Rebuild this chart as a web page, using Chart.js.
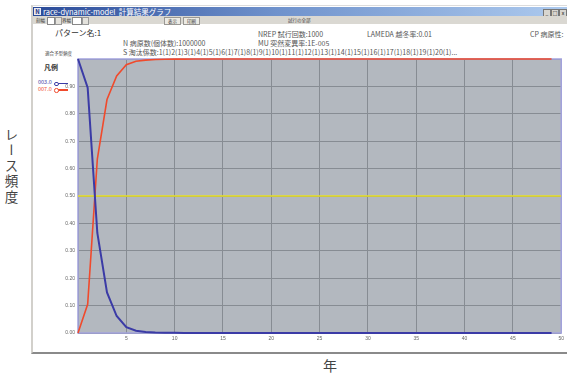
<!DOCTYPE html>
<html>
<head>
<meta charset="utf-8">
<script src="https://cdn.jsdelivr.net/npm/chart.js@4.4.0/dist/chart.umd.min.js"></script>
<style>
body{margin:0;width:567px;height:374px;background:#fff;position:relative;overflow:hidden;font-family:"Noto Sans CJK JP","Noto Sans",sans-serif;}
.a{position:absolute;white-space:nowrap;line-height:1;}
#win{position:absolute;left:31px;top:5px;width:545px;height:346px;background:#fff;border-left:2px solid #d2d0cb;border-top:1px solid #dcdcdc;border-bottom:2px solid #8a8a8a;}
#titlebar{position:absolute;left:33px;top:7px;width:540px;height:9px;background:linear-gradient(to right,#2a4a98,#6f92cc 45%,#aecbef);}
#toolbar{position:absolute;left:33px;top:16px;width:540px;height:8px;background:#dad8d2;}
.btn{position:absolute;top:17px;height:6px;background:#eceae4;border:1px solid #9a9894;font-size:4.5px;line-height:6px;text-align:center;color:#333;}
.box{position:absolute;top:17px;height:6px;background:#fff;border:1px solid #888;}
.spin{position:absolute;top:17px;width:5px;height:6px;background:#e4e2dc;border:1px solid #999;}
.wb{position:absolute;top:9px;width:6px;height:6px;background:#d8d6d0;border:1px solid #777;font-size:5px;line-height:6px;text-align:center;color:#000;}
.info{font-size:7px;color:#555;}
</style>
</head>
<body>
<div id="win"></div>
<div id="titlebar"></div>
<div class="a" style="left:34px;top:8px;width:7px;height:7px;background:#e8e8f0;color:#203080;font-size:6px;line-height:7px;text-align:center;font-weight:bold;">N</div>
<div class="a" style="left:43px;top:8px;font-size:7.5px;color:#fff;">race-dynamic-model&nbsp; 計算結果グラフ</div>
<div class="wb" style="left:543px;">_</div>
<div class="wb" style="left:551px;">□</div>
<div class="wb" style="left:559px;">x</div>
<div id="toolbar"></div>
<div class="a" style="left:36px;top:18px;font-size:4.5px;color:#333;">刻幅</div>
<div class="box" style="left:47px;width:6px;"></div>
<div class="spin" style="left:55px;"></div>
<div class="a" style="left:62px;top:18px;font-size:4.5px;color:#333;">界幅</div>
<div class="box" style="left:72px;width:8px;"></div>
<div class="spin" style="left:82px;"></div>
<div class="btn" style="left:164px;width:15px;">表示</div>
<div class="btn" style="left:183px;width:15px;">印刷</div>
<div class="a" style="left:288px;top:18px;font-size:4.5px;color:#444;">試行の全部</div>

<div class="a" style="left:55px;top:29px;font-size:8px;color:#333;">パターン名:1</div>
<div class="a info" style="left:258px;top:31px;">NREP 試行回数:1000</div>
<div class="a info" style="left:367px;top:31px;">LAMEDA 越冬率:0.01</div>
<div class="a info" style="left:530px;top:31px;">CP 病原性:</div>
<div class="a info" style="left:123px;top:40px;">N 病原数(個体数):1000000</div>
<div class="a info" style="left:258px;top:40px;">MU 突然変異率:1E-005</div>
<div class="a info" style="left:123px;top:49px;">S 淘汰係数:1(1)2(1)3(1)4(1)5(1)6(1)7(1)8(1)9(1)10(1)11(1)12(1)13(1)14(1)15(1)16(1)17(1)18(1)19(1)20(1)...</div>
<div class="a" style="left:45px;top:51px;font-size:4.5px;color:#444;">適合予型頻度</div>
<div class="a" style="left:44px;top:64px;font-size:7px;color:#333;font-weight:bold;">凡例</div>
<div id="legend"></div>

<div class="a" style="left:4px;top:128px;writing-mode:vertical-rl;font-size:13.5px;letter-spacing:2px;color:#444;">レース頻度</div>
<div class="a" style="left:323px;top:358px;font-size:14px;color:#444;">年</div>

<canvas id="chart" width="567" height="374" style="position:absolute;left:0;top:0;"></canvas>
<script>
var years = [];
for (var i = 0; i < 50; i++) years.push(i);

var seriesNames = ["003.0", "007.0"];
var seriesColors = ["#3b3ba6", "#f04a2c"];

var race003 = [1.000, 0.895, 0.365, 0.148, 0.062, 0.021, 0.008, 0.004, 0.002, 0.001,
    0.0006, 0.0004, 0.0002, 0.0001, 0, 0, 0, 0, 0, 0,
    0, 0, 0, 0, 0, 0, 0, 0, 0, 0,
    0, 0, 0, 0, 0, 0, 0, 0, 0, 0,
    0, 0, 0, 0, 0, 0, 0, 0, 0, 0];
var race007 = [0.000, 0.105, 0.635, 0.852, 0.938, 0.979, 0.992, 0.996, 0.998, 0.999,
    0.9994, 0.9996, 0.9998, 0.9999, 1, 1, 1, 1, 1, 1,
    1, 1, 1, 1, 1, 1, 1, 1, 1, 1,
    1, 1, 1, 1, 1, 1, 1, 1, 1, 1,
    1, 1, 1, 1, 1, 1, 1, 1, 1, 1];
var halfX = [0, 50];
var halfY = [0.5, 0.5];

function toPoints(xs, ys) {
    return xs.map(function (x, i) { return {x: x, y: ys[i]}; });
}

// 凡例
var legendHtml = "";
seriesNames.forEach(function (name, i) {
    var top = 80 + i * 6.5;
    legendHtml += '<div class="a" style="left:38px;top:' + top + 'px;font-size:5.5px;color:' + seriesColors[i] + ';">' + name + '</div>';
    legendHtml += '<div class="a" style="left:55px;top:' + (top + 2.5) + 'px;width:13px;height:1.5px;background:' + seriesColors[i] + ';"></div>';
    legendHtml += '<div class="a" style="left:54px;top:' + (top + 1.5) + 'px;width:2.5px;height:2.5px;border:1px solid ' + seriesColors[i] + ';border-radius:50%;background:#fff;"></div>';
});
document.getElementById("legend").innerHTML = legendHtml;

var plotBg = {
    id: "plotBg",
    beforeDraw: function (chart) {
        var a = chart.chartArea, c = chart.ctx;
        c.save();
        c.fillStyle = "#b3b8bf";
        c.fillRect(a.left, a.top, a.right - a.left, a.bottom - a.top);
        c.restore();
    },
    beforeDatasetsDraw: function (chart) {
        var a = chart.chartArea, c = chart.ctx;
        c.save();
        c.strokeStyle = "#a3a3de";
        c.lineWidth = 1.5;
        c.strokeRect(a.left, a.top, a.right - a.left, a.bottom - a.top);
        c.restore();
    }
};

var tickFont = {size: 5, family: "Liberation Sans"};

new Chart(document.getElementById("chart").getContext("2d"), {
    type: "line",
    data: {
        datasets: [
            {label: seriesNames[0], data: toPoints(years, race003), borderColor: seriesColors[0], borderWidth: 2, pointRadius: 0, tension: 0, clip: 3},
            {label: seriesNames[1], data: toPoints(years, race007), borderColor: seriesColors[1], borderWidth: 1.6, pointRadius: 0, tension: 0, clip: 3},
            {label: "0.5", data: toPoints(halfX, halfY), borderColor: "#e8e020", borderWidth: 1.5, pointRadius: 0}
        ]
    },
    options: {
        responsive: false,
        animation: false,
        devicePixelRatio: 1,
        layout: {padding: {left: 0, top: 59, right: 4, bottom: 0}},
        plugins: {legend: {display: false}, tooltip: {enabled: false}},
        scales: {
            x: {
                type: "linear", min: 0, max: 50,
                afterFit: function (s) { s.height = 41; },
                grid: {color: "#878c93", drawTicks: false},
                border: {display: false},
                ticks: {stepSize: 5, padding: 3, font: tickFont, color: "#666",
                    callback: function (v) { return v === 0 ? "" : v; }}
            },
            y: {
                min: 0, max: 1,
                afterFit: function (s) { s.width = 78; },
                grid: {color: "#878c93", drawTicks: false},
                border: {display: false},
                ticks: {stepSize: 0.1, padding: 3, font: tickFont, color: "#666",
                    callback: function (v) { return v >= 1 ? "" : v.toFixed(2); }}
            }
        }
    },
    plugins: [plotBg]
});
</script>
</body>
</html>
